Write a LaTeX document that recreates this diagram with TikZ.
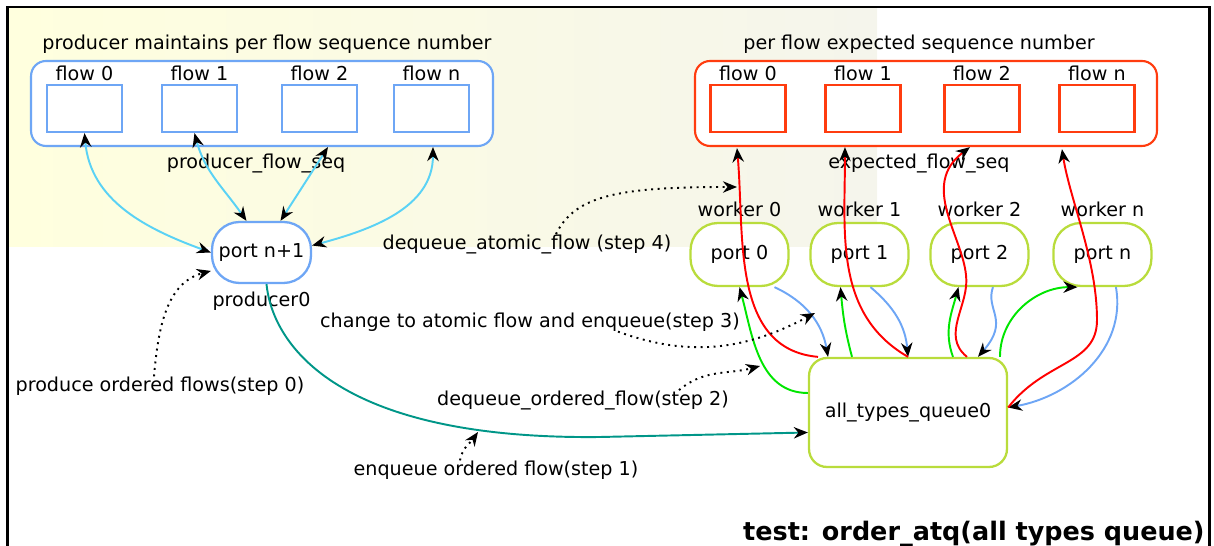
\documentclass[tikz,border=0pt]{standalone}
\usepackage{fontspec}
\setmainfont{DejaVu Sans}
\usetikzlibrary{arrows.meta}
\definecolor{prodblue}{RGB}{110,166,245}
\definecolor{flowcyan}{RGB}{90,210,245}
\definecolor{exporange}{RGB}{255,60,15}
\definecolor{portgreen}{RGB}{185,220,60}
\definecolor{deqgreen}{RGB}{0,230,0}
\definecolor{tealline}{RGB}{0,150,136}
\definecolor{bgleft}{RGB}{255,255,222}
\definecolor{bgright}{RGB}{245,245,236}
\tikzstyle{groupbox} = [rectangle, rounded corners=0.3cm,
minimum width=9.24cm,
minimum height=1.7cm,
fill=white, line width=1.2pt]
\tikzstyle{seqbox} = [rectangle, minimum width=1.5cm, minimum height=0.94cm, fill=white, line width=1.3pt]
\tikzstyle{portbox} = [rectangle, rounded corners=0.55cm, minimum width=1.96cm, minimum height=1.26cm, fill=white, line width=1.3pt]
\tikzstyle{queuebox} = [rectangle, rounded corners=0.36cm, minimum width=3.96cm, minimum height=2.18cm, draw=portgreen, fill=white, line width=1.3pt]
\tikzstyle{steptext} = [inner sep=0pt]
\tikzstyle{arrow} = [line width=1.1pt,->,>={Stealth[length=8pt,width=6.5pt,black]}]
\tikzstyle{twoway} = [arrow, <->, draw=flowcyan]
\tikzstyle{dotarrow} = [arrow, black, dash pattern=on 1.1pt off 2.6pt]
\begin{document}
\begin{tikzpicture}[x=0.02cm, y=-0.02cm, node distance=2.3cm, font=\fontsize{10.9}{13}\selectfont]
        \useasboundingbox (0,0) rectangle (1214,546);
        \clip (0,0) rectangle (1214,546);
        \shade [left color=bgleft, right color=bgright] (9,8) rectangle (877,247);
        \draw [line width=1.3pt] (7.5,560) -- (7.5,7) -- (1209.5,7) -- (1209.5,560);
        \node (ptitle) at (267,44) {producer maintains per flow sequence number};
        \node (pgroup) [groupbox, draw=prodblue] at (262,103.5) {};
        \node (pf0) [seqbox, draw=prodblue, label={[inner sep=1.5pt]above:flow 0}] at (84.5,108.5) {};
        \node (pf1) [seqbox, draw=prodblue, right of=pf0, label={[inner sep=1.5pt]above:flow 1}] {};
        \node (pf2) [seqbox, draw=prodblue, right of=pf1, xshift=0.1cm, label={[inner sep=1.5pt]above:flow 2}] {};
        \node (pfn) [seqbox, draw=prodblue, right of=pf2, xshift=-0.06cm, label={[inner sep=1.5pt]above:flow n}] {};
        \node (pseq) at (256,163) {producer\_flow\_seq};
        \node (etitle) at (919,44) {per flow expected sequence number};
        \node (egroup) [groupbox, draw=exporange] at (926,103.5) {};
        \node (ef0) [seqbox, draw=exporange, label={[inner sep=1.5pt]above:flow 0}] at (748,108.5) {};
        \node (ef1) [seqbox, draw=exporange, right of=ef0, label={[inner sep=1.5pt]above:flow 1}] {};
        \node (ef2) [seqbox, draw=exporange, right of=ef1, xshift=0.08cm, label={[inner sep=1.5pt]above:flow 2}] {};
        \node (efn) [seqbox, draw=exporange, right of=ef2, label={[inner sep=1.5pt]above:flow n}] {};
        \node (eseq) at (919,163) {expected\_flow\_seq};
        \node (pn1) [portbox, draw=prodblue, minimum width=1.98cm, minimum height=1.22cm, label={[inner sep=4pt]below:producer0}] at (261.5,252.5) {port n+1};
        \node (port0) [portbox, draw=portgreen, label={[inner sep=2.8pt]above:worker 0}] at (739.5,254.5) {port 0};
        \node (port1) [portbox, draw=portgreen, right of=port0, node distance=2.4cm, label={[inner sep=2.8pt]above:worker 1}] {port 1};
        \node (port2) [portbox, draw=portgreen, right of=port1, node distance=2.4cm, label={[inner sep=2.8pt]above:worker 2}] {port 2};
        \node (portn) [portbox, draw=portgreen, right of=port2, node distance=2.4cm, xshift=0.06cm, label={[inner sep=2.8pt]above:worker n}] {port n};
        \node (queue) [queuebox] at (908,412.5) {all\_types\_queue0};
        \node (s0) [steptext] at (160,386) {produce ordered flows(step 0)};
        \node (s1) [steptext] at (496,470) {enqueue ordered flow(step 1)};
        \node (s2) [steptext] at (583,400) {dequeue\_ordered\_flow(step 2)};
        \node (s3) [steptext] at (530,322) {change to atomic flow and enqueue(step 3)};
        \node (s4) [steptext] at (527,244) {dequeue\_atomic\_flow (step 4)};
        \node (testname) [anchor=base east, inner sep=0pt, font=\bfseries\fontsize{14.5}{17}\selectfont] at (1205,541) {test: order\_atq(all types queue)};
        \coordinate (onteal) at (478,432);
        \coordinate (ongreen) at (760,366);
        \coordinate (onblue) at (815,313);
        \coordinate (onred) at (737,187);
        \draw [twoway] (pf0.south) to[out=-85,in=160] (pn1.west);
        \draw [twoway] ([xshift=-0.1cm]pf1.south) to[out=-75,in=125] ([xshift=-0.3cm]pn1.north);
        \draw [twoway] ([xshift=0.38cm]pn1.north) -- ([xshift=1.32cm]pgroup.south);
        \draw [twoway] ([xshift=3.42cm]pgroup.south) to[out=-90,in=15] ([yshift=0.14cm]pn1.east);
        \draw [arrow, tealline] ([xshift=0.1cm]pn1.south) .. controls (272,340) and (330,440) .. (600,437) -- ([yshift=-0.4cm]queue.west);
        \draw [arrow, deqgreen] ([yshift=0.39cm]queue.west) to[out=180,in=-75] (port0.south);
        \draw [arrow, deqgreen] ([xshift=-1.12cm]queue.north) to[out=105,in=-85] ([xshift=-0.38cm]port1.south);
        \draw [arrow, deqgreen] ([xshift=0.9cm]queue.north) to[out=110,in=-105] ([xshift=-0.42cm]port2.south);
        \draw [arrow, deqgreen] ([xshift=1.84cm]queue.north) to[out=90,in=180] ([xshift=-0.5cm]portn.south);
        \draw [arrow, prodblue] ([xshift=0.7cm]port0.south) to[out=-25,in=100] ([xshift=-1.6cm]queue.north);
        \draw [arrow, prodblue] ([xshift=0.22cm]port1.south) to[out=-40,in=95] (queue.north);
        \draw [arrow, prodblue] ([xshift=0.27cm]port2.south) .. controls (985,310) and (1010,320) .. ([xshift=1.4cm]queue.north);
        \draw [arrow, prodblue] ([xshift=0.27cm]portn.south) to[out=-80,in=10] ([yshift=0.1cm]queue.east);
        \draw [arrow, red] ([xshift=-1.8cm]queue.north) to[out=175,in=-85] ([xshift=-0.22cm, yshift=-0.3cm]ef0.south);
        \draw [arrow, red] (queue.north) to[out=150,in=-90] ([xshift=-0.36cm, yshift=-0.28cm]ef1.south);
        \draw [arrow, red] ([xshift=1.18cm]queue.north) .. controls (940,335) and (970,305) .. (966,275) .. controls (962,235) and (920,185) .. ([xshift=-0.24cm, yshift=-0.28cm]ef2.south);
        \draw [arrow, red] ([yshift=0.1cm]queue.east) .. controls (1045,360) and (1097,365) .. (1097,320) .. controls (1097,260) and (1070,200) .. ([xshift=-0.7cm, yshift=-0.32cm]efn.south);
        \draw [dotarrow] ([xshift=-0.12cm]s0.north) to[out=85,in=195] (pn1.200);
        \draw [dotarrow] ([xshift=-0.72cm]s1.north) to[out=80,in=235] (onteal);
        \draw [dotarrow] ([xshift=1.92cm]s2.north) to[out=40,in=195] (ongreen);
        \draw [dotarrow] ([xshift=1.76cm]s3.south) to[out=-20,in=208] (onblue);
        \draw [dotarrow] ([xshift=0.58cm]s4.north) .. controls (575,195) and (620,187) .. (onred);
    \end{tikzpicture}
\end{document}
